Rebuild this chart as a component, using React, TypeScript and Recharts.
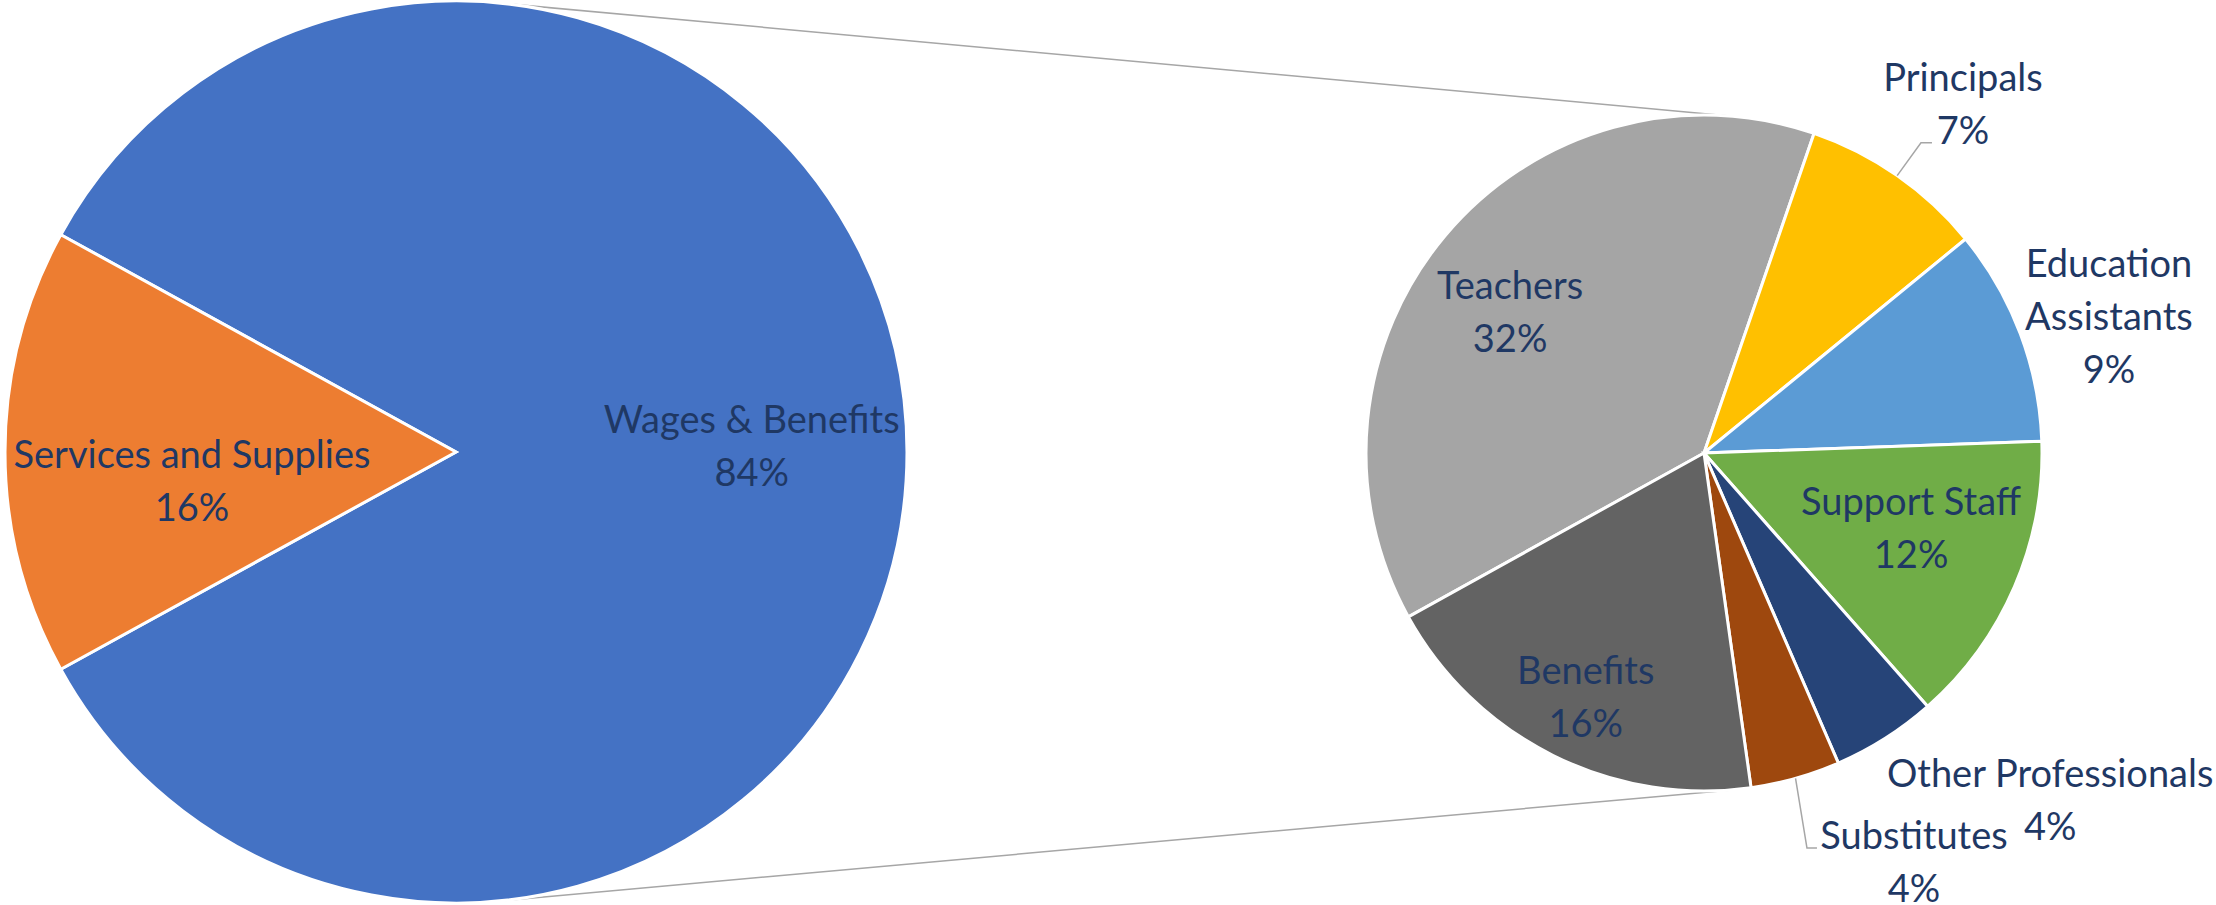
import { Cell, Customized, Pie, PieChart } from "recharts";

const groupNames = ["Wages & Benefits", "Services and Supplies"];
const groupValues = [84, 16];
const groupColors = ["#4472C4", "#ED7D31"];

const wageNames = [
  "Teachers",
  "Principals",
  "Education Assistants",
  "Support Staff",
  "Other Professionals",
  "Substitutes",
  "Benefits",
];
const wageValues = [32.2, 7.4, 8.7, 11.8, 4.2, 3.6, 16.1];
const wageColors = ["#A5A5A5", "#FFC000", "#5B9BD5", "#70AD47", "#264478", "#9E480E", "#636363"];
const wageLabelLines = [
  ["Teachers"],
  ["Principals"],
  ["Education", "Assistants"],
  ["Support Staff"],
  ["Other Professionals"],
  ["Substitutes"],
  ["Benefits"],
];

const groupData = groupNames.map((name, i) => ({ name, value: groupValues[i] }));
const wageData = wageNames.map((name, i) => ({ name, value: wageValues[i] }));

// layout
const left = { cx: 456, cy: 452, r: 451 };
const right = { cx: 1704, cy: 453, r: 338 };
const servicesShare = groupValues[1] / (groupValues[0] + groupValues[1]);
const leftStart = 180 - (360 * servicesShare) / 2; // services slice faces left
const rightStart = 209; // teachers begin on the lower left

const textColor = "#1F3864";
const fontSize = 38;
const lineH = 53;
const capH = 27;

// label block centre, polar from pie centre (deg, fraction of radius)
const groupLabelPos = [
  { a: 1.2, k: 0.656 },
  { a: 186.3, k: 0.589 },
];
const wageLabelPos = [
  { a: 143.9, k: 0.71 },
  { a: 53.4, k: 1.285 },
  { a: 18.6, k: 1.264 },
  { a: -20.0, k: 0.652 },
  { a: -45.1, k: 1.451 },
  { a: -62.8, k: 1.359 },
  { a: -115.9, k: 0.801 },
];
// leader lines: elbow and end relative to label centre
const leaders: Record<number, { ex: number; ey: number; hx: number }> = {
  1: { ex: -42, ey: 38.5, hx: -31 },
  5: { ex: -107, ey: -13.5, hx: -97 },
};

const RAD = Math.PI / 180;
const polar = (cx: number, cy: number, r: number, deg: number) => ({
  x: cx + r * Math.cos(deg * RAD),
  y: cy - r * Math.sin(deg * RAD),
});

const pct = (v: number) => `${Math.round(v)}%`;

function LabelBlock({ x, y, lines }: { x: number; y: number; lines: string[] }) {
  const first = y - ((lines.length - 1) * lineH) / 2 + capH / 2;
  return (
    <text
      x={x}
      y={first}
      fill={textColor}
      fontSize={fontSize}
      fontFamily="Lato, 'Open Sans', sans-serif"
      textAnchor="middle"
    >
      {lines.map((line, i) => (
        <tspan key={i} x={x} y={first + i * lineH}>
          {line}
        </tspan>
      ))}
    </text>
  );
}

function groupLabel(props: any) {
  const i = props.index;
  const pos = groupLabelPos[i];
  const p = polar(left.cx, left.cy, left.r * pos.k, pos.a);
  return <LabelBlock key={`g-${i}`} x={p.x} y={p.y} lines={[groupNames[i], pct(groupValues[i])]} />;
}

function wageLabel(props: any) {
  const i = props.index;
  const pos = wageLabelPos[i];
  const p = polar(right.cx, right.cy, right.r * pos.k, pos.a);
  const lead = leaders[i];
  let leadLine = null;
  if (lead) {
    const edge = polar(right.cx, right.cy, right.r, props.midAngle);
    leadLine = (
      <polyline
        points={`${edge.x},${edge.y} ${p.x + lead.ex},${p.y + lead.ey} ${p.x + lead.hx},${p.y + lead.ey}`}
        fill="none"
        stroke="#A6A6A6"
        strokeWidth={1.5}
      />
    );
  }
  return (
    <g key={`w-${i}`}>
      {leadLine}
      <LabelBlock x={p.x} y={p.y} lines={[...wageLabelLines[i], pct(wageValues[i])]} />
    </g>
  );
}

// outer tangents between the two pies
function SeriesLines() {
  const dx = right.cx - left.cx;
  const dy = right.cy - left.cy;
  const d = Math.hypot(dx, dy);
  const phi = Math.atan2(-dy, dx) / RAD;
  const alpha = Math.acos((left.r - right.r) / d) / RAD;
  const lines = [phi + alpha, phi - alpha].map((deg) => ({
    a: polar(left.cx, left.cy, left.r, deg),
    b: polar(right.cx, right.cy, right.r, deg),
  }));
  return (
    <g>
      {lines.map((l, i) => (
        <line key={i} x1={l.a.x} y1={l.a.y} x2={l.b.x} y2={l.b.y} stroke="#A6A6A6" strokeWidth={1.5} />
      ))}
    </g>
  );
}

export default function App() {
  return (
    <div style={{ position: "absolute", left: 0, top: 0, background: "#fff" }}>
      <PieChart width={2216} height={905} margin={{ top: 0, right: 0, bottom: 0, left: 0 }}>
        <Customized component={SeriesLines} />
        <Pie
          data={groupData}
          dataKey="value"
          nameKey="name"
          cx={left.cx}
          cy={left.cy}
          outerRadius={left.r}
          startAngle={leftStart}
          endAngle={leftStart - 360}
          stroke="#FFFFFF"
          strokeWidth={3}
          label={groupLabel}
          labelLine={false}
          isAnimationActive={false}
        >
          {groupData.map((entry, i) => (
            <Cell key={entry.name} fill={groupColors[i]} />
          ))}
        </Pie>
        <Pie
          data={wageData}
          dataKey="value"
          nameKey="name"
          cx={right.cx}
          cy={right.cy}
          outerRadius={right.r}
          startAngle={rightStart}
          endAngle={rightStart - 360}
          stroke="#FFFFFF"
          strokeWidth={3}
          label={wageLabel}
          labelLine={false}
          isAnimationActive={false}
        >
          {wageData.map((entry, i) => (
            <Cell key={entry.name} fill={wageColors[i]} />
          ))}
        </Pie>
      </PieChart>
    </div>
  );
}
